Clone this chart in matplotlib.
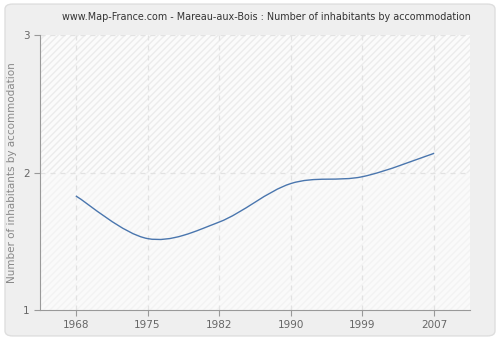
import matplotlib
matplotlib.use("Agg")
import matplotlib.pyplot as plt
from matplotlib.path import Path
from matplotlib.patches import PathPatch, FancyBboxPatch

years = ["1968", "1975", "1982", "1990", "1999", "2007"]
values = [1.83, 1.52, 1.64, 1.92, 1.97, 2.14]
yticks = [1, 2, 3]
title = "www.Map-France.com - Mareau-aux-Bois : Number of inhabitants by accommodation"
ylabel = "Number of inhabitants by accommodation"


def smooth_path(xs, ys, k=1 / 6):
    # Catmull-Rom style bezier through the data points
    verts = [(xs[0], ys[0])]
    codes = [Path.MOVETO]
    n = len(xs)
    for i in range(n - 1):
        x0, y0 = (xs[i - 1], ys[i - 1]) if i > 0 else (xs[i], ys[i])
        x1, y1 = xs[i], ys[i]
        x2, y2 = xs[i + 1], ys[i + 1]
        x3, y3 = (xs[i + 2], ys[i + 2]) if i + 2 < n else (x2, y2)
        c1 = (x1 + (x2 - x0) * k, y1 + (y2 - y0) * k)
        c2 = (x2 - (x3 - x1) * k, y2 - (y3 - y1) * k)
        verts += [c1, c2, (x2, y2)]
        codes += [Path.CURVE4] * 3
    return Path(verts, codes)


fig = plt.figure(figsize=(5, 3.4), dpi=100)
fig.patch.set_facecolor("white")
panel = FancyBboxPatch((0.01, 0.012), 0.98, 0.976, boxstyle="round,pad=0,rounding_size=0.015",
                       transform=fig.transFigure, facecolor="#efefef", edgecolor="#dedede", lw=1,
                       zorder=-10)
fig.patches.append(panel)

ax = fig.add_axes([0.08, 0.088, 0.86, 0.809])
ax.set_facecolor("#fbfbfb")
x = list(range(len(years)))
ax.set_xlim(-0.5, len(years) - 0.5)
ax.set_ylim(1, 3)

# hatched background, stronger in the upper band
ax.fill_between([-0.5, len(years) - 0.5], 2, 3, facecolor="#fbfbfb", edgecolor="#ececec",
                hatch="/////", lw=0, zorder=0)
ax.fill_between([-0.5, len(years) - 0.5], 1, 2, facecolor="#fafafa", edgecolor="#f3f3f3",
                hatch="/////", lw=0, zorder=0)

for xi in x:
    ax.axvline(xi, color="#e2e2e2", lw=0.9, ls=(0, (4, 4)), zorder=1)
for yv in yticks[1:]:
    ax.axhline(yv, color="#e2e2e2", lw=0.9, ls=(0, (4, 4)), zorder=1)

ax.add_patch(PathPatch(smooth_path(x, values), facecolor="none", edgecolor="#4a76ae", lw=1, zorder=3))

ax.set_xticks(x)
ax.set_xticklabels(years)
ax.set_yticks(yticks)
for s in ["top", "right"]:
    ax.spines[s].set_visible(False)
for s in ["left", "bottom"]:
    ax.spines[s].set_color("#999999")
ax.tick_params(colors="#999999", labelcolor="#666666", labelsize=7.5, length=4, width=0.8)
ax.set_ylabel(ylabel, color="#888888", fontsize=7.5)
fig.text(0.533, 0.95, title, ha="center", va="center", fontsize=6.9, color="#333333")

fig.savefig("out.png", dpi=100)
